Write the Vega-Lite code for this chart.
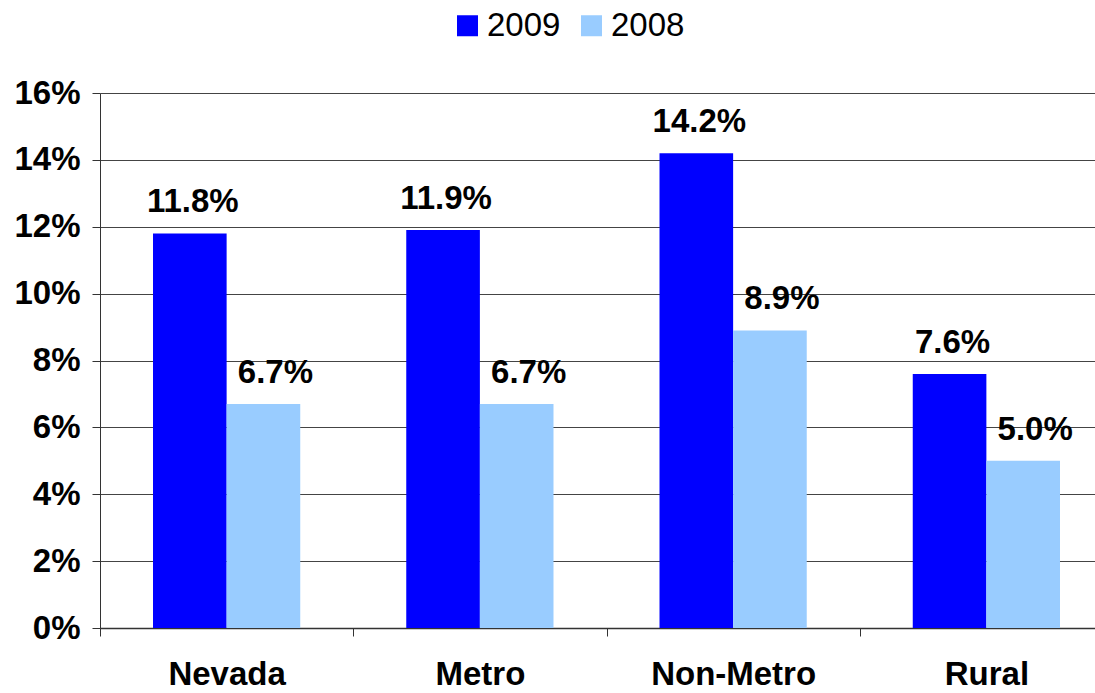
{
  "$schema": "https://vega.github.io/schema/vega-lite/v6.json",
  "autosize": {"type": "none"},
  "width": 993,
  "height": 535,
  "padding": {"left": 100, "top": 93, "right": 2, "bottom": 65},
  "background": "white",
  "config": {
    "view": {"stroke": null},
    "font": "Liberation Sans"
  },
  "data": {
    "values": [
      {"region": "Nevada", "year": "2009", "rate": 11.8},
      {"region": "Nevada", "year": "2008", "rate": 6.7},
      {"region": "Metro", "year": "2009", "rate": 11.9},
      {"region": "Metro", "year": "2008", "rate": 6.7},
      {"region": "Non-Metro", "year": "2009", "rate": 14.2},
      {"region": "Non-Metro", "year": "2008", "rate": 8.9},
      {"region": "Rural", "year": "2009", "rate": 7.6},
      {"region": "Rural", "year": "2008", "rate": 5.0}
    ]
  },
  "encoding": {
    "x": {
      "field": "region",
      "type": "nominal",
      "sort": ["Nevada", "Metro", "Non-Metro", "Rural"],
      "scale": {"paddingInner": 0, "paddingOuter": 0, "range": [0, 1013]},
      "axis": {
        "title": null,
        "labelAngle": 0,
        "labelFont": "Liberation Sans",
        "labelFontWeight": "bold",
        "labelFontSize": 33,
        "labelColor": "black",
        "labelPadding": 22,
        "tickBand": "extent",
        "tickSize": 8,
        "tickColor": "#333",
        "domainColor": "#333",
        "domainWidth": 1.5,
        "grid": false
      }
    },
    "xOffset": {
      "field": "year",
      "type": "nominal",
      "sort": ["2009", "2008"],
      "scale": {"paddingInner": 0, "paddingOuter": 0.72}
    },
    "y": {
      "field": "rate",
      "type": "quantitative",
      "scale": {"domain": [0, 16], "nice": false},
      "axis": {
        "title": null,
        "values": [0, 2, 4, 6, 8, 10, 12, 14, 16],
        "labelExpr": "datum.value + '%'",
        "labelFont": "Liberation Sans",
        "labelFontWeight": "bold",
        "labelFontSize": 33,
        "labelColor": "black",
        "labelPadding": 12,
        "tickSize": 8,
        "tickColor": "#333",
        "domainColor": "#333",
        "grid": true,
        "gridColor": "#444",
        "gridWidth": 1,
        "gridOpacity": 1
      }
    }
  },
  "layer": [
    {
      "mark": {"type": "bar"},
      "encoding": {
        "color": {
          "field": "year",
          "type": "nominal",
          "sort": ["2009", "2008"],
          "scale": {"domain": ["2009", "2008"], "range": ["#0000FF", "#99CCFF"]},
          "legend": {
            "title": null,
            "orient": "none",
            "legendX": 351,
            "legendY": -84,
            "direction": "horizontal",
            "symbolType": "square",
            "symbolSize": 441,
            "symbolStrokeWidth": 0,
            "labelFont": "Liberation Sans",
            "labelFontSize": 33,
            "labelColor": "black",
            "labelOffset": 3,
            "columnPadding": 14
          }
        }
      }
    },
    {
      "transform": [{"filter": "datum.year == '2009'"}],
      "mark": {"type": "text", "baseline": "alphabetic", "dy": -21, "dx": 3, "fontSize": 33, "fontWeight": "bold", "font": "Liberation Sans", "color": "black", "text": {"expr": "format(datum.rate, '.1f') + '%'"}}
    },
    {
      "transform": [{"filter": "datum.year == '2008'"}],
      "mark": {"type": "text", "baseline": "alphabetic", "dy": -21, "dx": 12, "fontSize": 33, "fontWeight": "bold", "font": "Liberation Sans", "color": "black", "text": {"expr": "format(datum.rate, '.1f') + '%'"}}
    }
  ]
}
